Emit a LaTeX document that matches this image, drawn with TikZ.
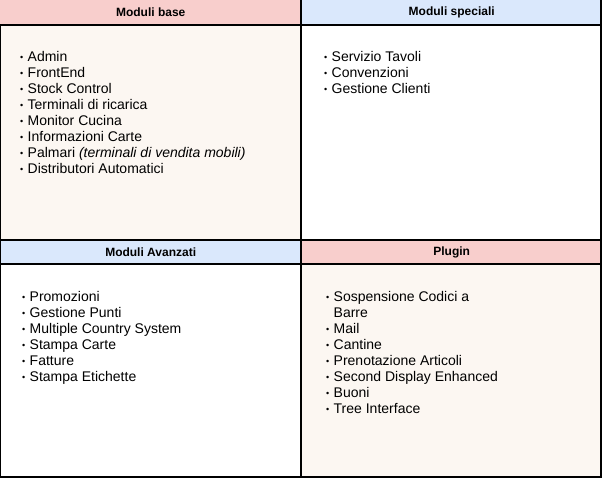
\documentclass[tikz,border=0pt]{standalone}
\usepackage{fontspec}
\setmainfont{Liberation Sans}
\definecolor{HeadPink}{RGB}{248, 206, 204}
\definecolor{HeadBlue}{RGB}{218, 232, 252}
\definecolor{BodyCream}{RGB}{252, 247, 242}
\newcommand{\modbullet}{\makebox[7.5pt][l]{\fontsize{9}{9}\selectfont\raisebox{0.9pt}{\textbullet}}}

\begin{document}
\begin{tikzpicture}[x=1pt, y=-1pt,
    head/.style={anchor=north west, minimum width=301pt, minimum height=24pt, inner sep=0pt,
        font=\bfseries\fontsize{12}{14}\selectfont},
    modlist/.style={anchor=north west, inner sep=0pt, align=left,
        font=\fontsize{14}{16}\selectfont},
    grid/.style={line width=2pt}]

\useasboundingbox (0,0) rectangle (603,480);

% Panel 1: Moduli base
\fill[BodyCream] (0,24) rectangle (301,240);
\node[head, fill=HeadPink] (basehead) at (0,0) {Moduli base};
\node[modlist] (baselist) at (20,51) {
    \modbullet Admin\\
    \modbullet FrontEnd\\
    \modbullet Stock Control\\
    \modbullet Terminali di ricarica\\
    \modbullet Monitor Cucina\\
    \modbullet Informazioni Carte\\
    \modbullet Palmari \textit{(terminali di vendita mobili)}\\
    \modbullet Distributori Automatici};

% Panel 2: Moduli speciali
\node[head, fill=HeadBlue] (spechead) at (301,0) {Moduli speciali};
\node[modlist] (speclist) at (324,51) {
    \modbullet Servizio Tavoli\\
    \modbullet Convenzioni\\
    \modbullet Gestione Clienti};

% Panel 3: Moduli Avanzati
\node[head, fill=HeadBlue] (advhead) at (0,240) {Moduli Avanzati};
\node[modlist] (advlist) at (22,291) {
    \modbullet Promozioni\\
    \modbullet Gestione Punti\\
    \modbullet Multiple Country System\\
    \modbullet Stampa Carte\\
    \modbullet Fatture\\
    \modbullet Stampa Etichette};

% Panel 4: Plugin
\fill[BodyCream] (301,264) rectangle (602,478);
\node[head, fill=HeadPink] (plughead) at (301,240) {Plugin};
\node[modlist] (pluglist) at (326,291) {
    \modbullet Sospensione Codici a\\
    \hphantom{\modbullet}Barre\\
    \modbullet Mail\\
    \modbullet Cantine\\
    \modbullet Prenotazione Articoli\\
    \modbullet Second Display Enhanced\\
    \modbullet Buoni\\
    \modbullet Tree Interface};

% Grid lines
\draw[grid] (0,24.5) -- (602,24.5);
\draw[grid] (0,240) -- (602,240);
\draw[grid] (0,264) -- (602,264);
\draw[grid] (0,477) -- (602,477);
\draw[grid] (301,0) -- (301,478);
\draw[grid] (601,0) -- (601,478);
\draw[grid] (0,24) -- (0,478);

\end{tikzpicture}
\end{document}
